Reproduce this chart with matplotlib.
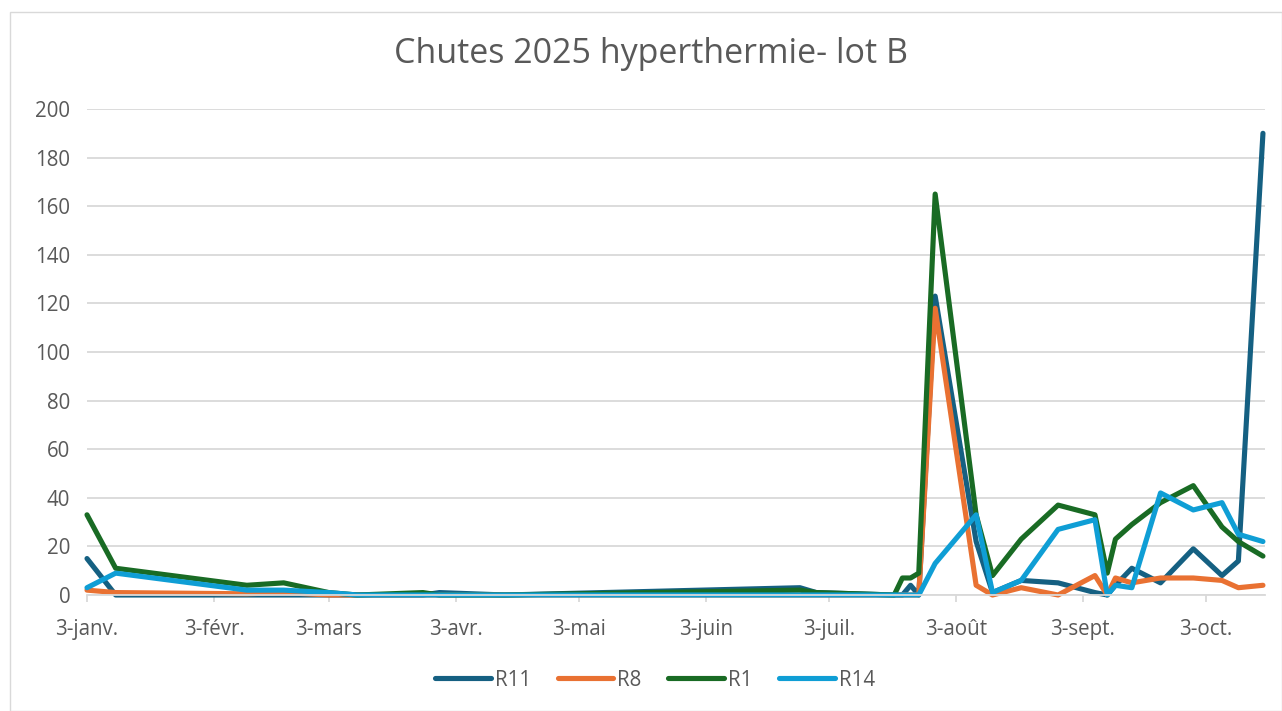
import matplotlib
matplotlib.use("Agg")
import matplotlib.pyplot as plt
import matplotlib.dates as mdates
import pandas as pd
from matplotlib.patches import Rectangle

plt.rcParams['font.family'] = ['Open Sans', 'DejaVu Sans']

dates = pd.to_datetime([
    "2025-01-03", "2025-01-10", "2025-02-11", "2025-02-20", "2025-03-03",
    "2025-03-10", "2025-03-26", "2025-03-30", "2025-04-15", "2025-06-26",
    "2025-06-30", "2025-07-19", "2025-07-21", "2025-07-23", "2025-07-25",
    "2025-07-29", "2025-08-08", "2025-08-12", "2025-08-19", "2025-08-28",
    "2025-09-06", "2025-09-09", "2025-09-11", "2025-09-15", "2025-09-22",
    "2025-09-30", "2025-10-07", "2025-10-11", "2025-10-17",
])

r11 = [15, 0, 0, 0, 0, 0, 0, 1, 0, 3, 1, 0, 0, 4, 0,
       123, 22, 1, 6, 5, 1, 0, 4, 11, 5, 19, 8, 14, 190]
r8 = [2, 1, 0.5, 1, 0, 0, 0, 0, 0, 0, 0, 0, 0, 0, 0,
      118, 4, 0, 3, 0, 8, 0, 7, 5, 7, 7, 6, 3, 4]
r1 = [33, 11, 4, 5, 1, 0, 1, 0, 0, 2, 1, 0, 7, 7, 9,
      165, 33, 8, 23, 37, 33, 9, 23, 29, 38, 45, 28, 22, 16]
r14 = [3, 9, 2, 2, 1, 0, 0, 0, 0, 0, 0, 0, 0, 0, 0,
       13, 33, 1, 6, 27, 31, 0, 4, 3, 42, 35, 38, 25, 22]

series_names = ["R11", "R8", "R1", "R14"]
series_colors = ["#156082", "#E97132", "#196B24", "#0F9ED5"]

tick_dates = pd.to_datetime([
    "2025-01-03", "2025-02-03", "2025-03-03", "2025-04-03", "2025-05-03",
    "2025-06-03", "2025-07-03", "2025-08-03", "2025-09-03", "2025-10-03",
])
tick_labels = ["3-janv.", "3-févr.", "3-mars", "3-avr.", "3-mai",
               "3-juin", "3-juil.", "3-août", "3-sept.", "3-oct."]

title = "Chutes 2025 hyperthermie- lot B"

W, H = 1282, 711
fig = plt.figure(figsize=(W / 100, H / 100), dpi=100)
ax = fig.add_axes([87 / W, 1 - 595 / H, (1265 - 87) / W, (595 - 109) / H])

for vals, name, col in zip([r11, r8, r1, r14], series_names, series_colors):
    ax.plot(dates, vals, color=col, lw=3.7, label=name,
            solid_joinstyle='round', solid_capstyle='round', clip_on=False)

ax.set_ylim(0, 200)
ax.set_yticks(range(0, 201, 20))
ax.set_xlim(dates[0], dates[-1] + pd.Timedelta(days=0.5))
ax.set_xticks(tick_dates)
ax.set_xticklabels(tick_labels)

ax.grid(axis='y', color='#D9D9D9', lw=1.3)
ax.set_axisbelow(True)
for s in ['top', 'right', 'left']:
    ax.spines[s].set_visible(False)
ax.spines['bottom'].set_color('#D9D9D9')
ax.spines['bottom'].set_linewidth(1.3)

ax.tick_params(axis='y', length=0, pad=12, labelsize=14.8, labelcolor='#595959')
ax.tick_params(axis='x', length=5, width=1.3, color='#D9D9D9', pad=12,
               labelsize=14.8, labelcolor='#595959')

fig.text(0.508, 1 - 54 / H, title, ha='center', va='center',
         fontsize=24.5, color='#595959')

leg = fig.legend(loc='center', bbox_to_anchor=(0.511, 1 - 680 / H), ncol=4,
                 frameon=False, fontsize=14.8, handlelength=2.7,
                 handletextpad=0.2, columnspacing=1.3)
for t in leg.get_texts():
    t.set_color('#595959')
for l in leg.get_lines():
    l.set_linewidth(3.7)
    l.set_solid_capstyle('round')

fig.patches.append(Rectangle((10 / W, 0), (W - 10) / W, 1 - 12 / H,
                             transform=fig.transFigure, fill=False,
                             edgecolor='#D9D9D9', lw=1))

fig.savefig("out.png", dpi=100)
